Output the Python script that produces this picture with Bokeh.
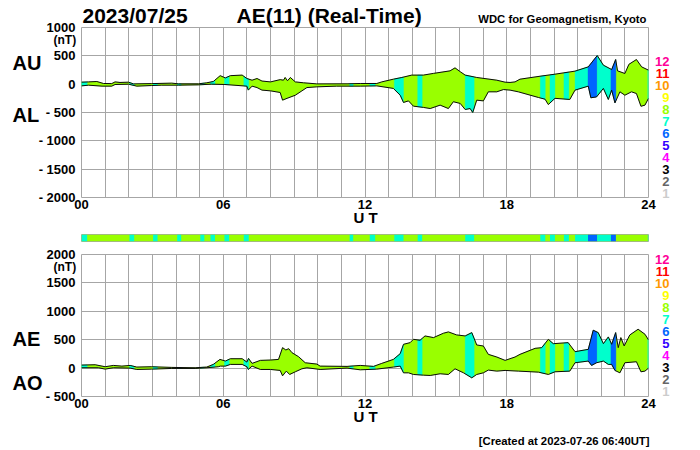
import numpy as np
from bokeh.core.properties import value
from bokeh.embed import file_html
from bokeh.layouts import column
from bokeh.models import ColumnDataSource, FixedTicker
from bokeh.plotting import figure
from bokeh.resources import INLINE

hours_au = [0,.3,.65,.93,1.28,1.42,1.63,1.99,2.2,2.97,3.82,4.1,4.95,5.3,5.58,5.87,6.09,6.3,6.8,7.0,7.22,7.43,7.64,8.0,8.41,8.55,8.62,8.72,8.84,9.05,9.4,9.96,11.24,11.8,12.5,12.71,13.2,13.56,13.98,14.47,14.9,15.6,15.81,16.03,16.24,16.73,17.58,17.93,18.14,18.35,18.56,19.41,20.04,20.89,21.45,21.83,22.09,22.44,22.61,22.69,23.0,23.17,23.49,23.71,24]
au = [35,40,47,12,10,40,30,35,5,10,18,6,6,24,47,150,110,150,160,100,70,100,55,40,80,70,118,60,118,40,24,5,6,12,12,40,88,118,160,160,190,235,288,220,160,118,70,35,30,40,88,140,176,230,305,505,335,258,435,235,188,350,435,305,247]
hours_al = [0,.3,.87,1.28,1.42,1.99,2.34,2.97,3.4,4.1,4.95,5.5,6.07,7.0,7.06,7.22,7.43,7.64,8.0,8.41,8.51,8.7,9.05,9.33,9.54,9.96,10.8,11.8,12.5,13.2,13.49,13.63,13.84,14.05,14.47,14.76,15.18,15.53,15.74,16.03,16.24,16.45,16.56,16.73,17.01,17.22,17.58,17.86,18.14,18.49,19.34,19.62,19.76,20.04,20.67,20.89,21.45,21.56,21.8,22.09,22.3,22.44,22.58,22.79,23.0,23.28,23.49,23.68,23.85,24]
al = [-30,-18,-35,-35,-6,0,-35,-24,-18,-18,-12,0,-6,-35,-105,-35,-60,-105,-118,-147,-282,-250,-195,-118,-60,-47,-35,-35,-30,-75,-195,-323,-295,-388,-410,-430,-370,-430,-310,-340,-447,-430,-500,-282,-295,-135,-135,-95,-105,-135,-235,-265,-360,-250,-270,-105,-35,-240,-225,-75,-270,-105,-330,-135,-195,-135,-165,-390,-370,-250]
hours_ae = [0,.58,1.0,1.35,1.71,2.06,2.34,2.97,3.82,4.81,5.3,5.58,5.86,6.09,6.3,6.8,7.0,7.07,7.22,7.57,8.0,8.34,8.51,8.65,8.77,8.91,9.19,9.47,9.96,10.1,11.24,11.8,12.36,12.71,13.2,13.49,13.63,13.91,14.05,14.33,14.54,14.9,15.32,15.53,15.88,16.24,16.52,16.73,17.01,17.22,17.58,17.93,18.35,18.56,19.2,19.48,19.76,19.97,20.6,20.89,21.45,21.66,21.87,22.09,22.3,22.44,22.61,22.72,22.83,22.97,23.21,23.56,23.85,24]
ae = [53,59,24,47,35,47,18,24,12,6,18,65,153,124,165,165,106,171,83,136,142,153,360,319,342,271,200,94,71,35,30,47,30,83,153,254,419,448,507,490,566,537,614,637,584,566,625,407,389,242,195,136,195,242,348,360,507,430,448,289,330,667,625,430,549,419,625,360,537,390,584,684,596,496]
hours_ao = [0,.72,1.0,1.35,2.06,2.34,2.97,3.82,4.81,5.3,5.79,5.88,6.09,6.3,6.8,7.0,7.06,7.22,7.57,8.0,8.41,8.51,8.67,8.81,9.05,9.33,9.54,10.1,11.24,11.8,12.5,13.2,13.49,13.63,13.84,14.05,14.47,14.76,15.18,15.53,15.81,16.17,16.52,16.73,17.01,17.22,17.58,17.93,18.49,19.34,19.76,20.04,20.67,20.89,21.45,21.59,21.8,22.09,22.3,22.44,22.58,22.79,23.0,23.49,23.68,23.85,24]
ao = [6,6,-18,6,0,-24,-18,-6,-6,6,24,35,35,65,65,24,-24,35,-24,-24,-41,-136,-53,-112,-65,-12,6,-24,0,-30,-18,18,35,-83,-83,-112,-124,-130,-100,-112,-12,-83,-171,-112,-83,-35,-53,-41,-53,-71,-112,-65,-53,94,124,47,94,124,65,65,-41,-83,94,112,-65,-53,0]

band_start = [0,2.03,3.03,4.05,5.03,5.46,6.05,6.87,11.35,12.2,13.24,14.23,16.24,19.42,19.83,20.42,20.89,21.44,21.83,22.41,23.97]
band_end = [.24,2.23,3.22,4.22,5.2,5.65,6.25,7.08,11.5,12.43,13.63,14.42,16.62,19.63,20.04,20.63,21.44,21.83,22.41,22.62,24]
band_count = [7,7,7,7,7,7,7,7,7,7,7,7,7,7,7,7,7,6,7,6,7]
default_count = 8

station_labels = ["12","11","10","9","8","7","6","5","4","3","2","1"]
station_colors = ["#ff0099","#ff0000","#ff9900","#ffff00","#99ff00","#00ffcc","#0066ff","#3300ff","#ff00ff","#000000","#666666","#cccccc"]
count_color = {int(n): c for n, c in zip(station_labels, station_colors)}

x_ticks = [0, 6, 12, 18, 24]
x_labels = ["00", "06", "12", "18", "24"]
hour_grid = list(range(25))
top_ticks = [1000, 500, 0, -500, -1000, -1500, -2000]
top_labels = ["1000", "500", "0", "- 500", "- 1000", "- 1500", "- 2000"]
bottom_ticks = [2000, 1500, 1000, 500, 0, -500]
bottom_labels = ["2000", "1500", "1000", "500", "0", "- 500"]

FONT = "Liberation Sans"
GRID = "#a6a6a6"
LEFT = 81
FRAME_W = 567
WIDTH = 700


def panel(height, top, bottom, y_range, ticks, labels, hu, up, hl, lo):
    p = figure(width=WIDTH, height=height, x_range=(0, 24), y_range=y_range, output_backend="svg",
               toolbar_location=None, min_border_left=LEFT, min_border_right=WIDTH - LEFT - FRAME_W,
               min_border_top=top, min_border_bottom=bottom)
    p.outline_line_color = GRID
    p.xaxis.ticker = FixedTicker(ticks=x_ticks)
    p.xaxis.major_label_overrides = dict(zip(x_ticks, x_labels))
    p.yaxis.ticker = FixedTicker(ticks=ticks)
    p.yaxis.major_label_overrides = dict(zip(ticks, labels))
    for ax in (p.xaxis[0], p.yaxis[0]):
        ax.axis_line_color = None
        ax.major_tick_line_color = None
        ax.minor_tick_line_color = None
        ax.major_tick_out = 0
        ax.major_tick_in = 0
        ax.minor_tick_out = 0
        ax.minor_tick_in = 0
        ax.major_label_text_font = FONT
        ax.major_label_text_font_size = "13px"
        ax.major_label_text_font_style = "bold"
        ax.major_label_text_color = "#000000"
    p.yaxis.major_label_standoff = 6
    p.xaxis.major_label_standoff = 2
    p.xgrid.ticker = FixedTicker(ticks=hour_grid)
    p.ygrid.ticker = FixedTicker(ticks=ticks)
    p.grid.grid_line_color = GRID
    p.grid.grid_line_width = 1

    xs = [list(hu) + list(hl[::-1])]
    ys = [list(up) + list(lo[::-1])]
    colors = [count_color[default_count]]
    for s, e, n in zip(band_start, band_end, band_count):
        # the outline is cut at the edges of each band of equal station count
        xu = [s] + [h for h in hu if s < h < e] + [e]
        xl = [s] + [h for h in hl if s < h < e] + [e]
        xs.append(xu + xl[::-1])
        ys.append(list(np.interp(xu, hu, up)) + list(np.interp(xl, hl, lo))[::-1])
        colors.append(count_color[n])
    p.patches("xs", "ys", color="color", line_width=0.4, source=ColumnDataSource(dict(xs=xs, ys=ys, color=colors)))
    p.line(hu, up, line_color="#0a0a0a", line_width=1)
    p.line(hl, lo, line_color="#0a0a0a", line_width=1)
    return p


top = panel(224, 27, 27, (-2000, 1000), top_ticks, top_labels, hours_au, au, hours_al, al)
strip = figure(width=WIDTH, height=20, x_range=(0, 24), y_range=(0, 1), output_backend="svg", toolbar_location=None,
               min_border_left=LEFT, min_border_right=WIDTH - LEFT - FRAME_W, min_border_top=10, min_border_bottom=3,
               x_axis_location=None, y_axis_location=None)
strip.grid.visible = False
strip.outline_line_color = GRID
strip.quad(left=[x_ticks[0]], right=[x_ticks[-1]], bottom=[0], top=[1], color=count_color[default_count], line_width=0)
strip.quad(left=band_start, right=band_end, bottom=0, top=1, color=[count_color[n] for n in band_count], line_width=0)
bottom = panel(206, 10, 54, (-500, 2000), bottom_ticks, bottom_labels, hours_ae, ae, hours_ao, ao)

# Transparent text layer over the whole page; its ranges are the page's pixels
overlay = figure(width=WIDTH, height=450, x_range=(0, WIDTH), y_range=(450, 0), output_backend="svg",
                 toolbar_location=None, min_border=0, x_axis_location=None, y_axis_location=None,
                 background_fill_color=None, border_fill_color=None, outline_line_color=None,
                 styles={"position": "absolute", "left": "0", "top": "0"})
overlay.grid.visible = False


def text(s, px, py, size, color="#000000", align="left"):
    overlay.text(x=[px], y=[py], text=[s], text_font=value(FONT), text_font_size=f"{size}px", text_font_style="bold",
                 text_color=color, text_align=align, text_baseline="middle")


text("2023/07/25", 82, 15, 21)
text("AE(11) (Real-Time)", 236, 15, 21)
text("WDC for Geomagnetism, Kyoto", 646, 18, 11.3, align="right")
text("(nT)", 53, 39, 12)
text("AU", 12, 62, 20)
text("AL", 12, 114, 20)
text("U T", 365, 217, 15, align="center")
text("(nT)", 53, 266, 12)
text("AE", 12, 338, 20)
text("AO", 12, 382, 20)
text("U T", 365, 416, 15, align="center")
text("[Created at 2023-07-26 06:40UT]", 649, 440, 11.3, align="right")
for i, (s, c) in enumerate(zip(station_labels, station_colors)):
    text(s, 669, 61 + 12 * i, 13, color=c, align="right")
    text(s, 669, 259 + 12 * i, 13, color=c, align="right")

layout = column(top, strip, bottom, spacing=0)
open("out.html", "w").write(file_html([layout, overlay], INLINE))
